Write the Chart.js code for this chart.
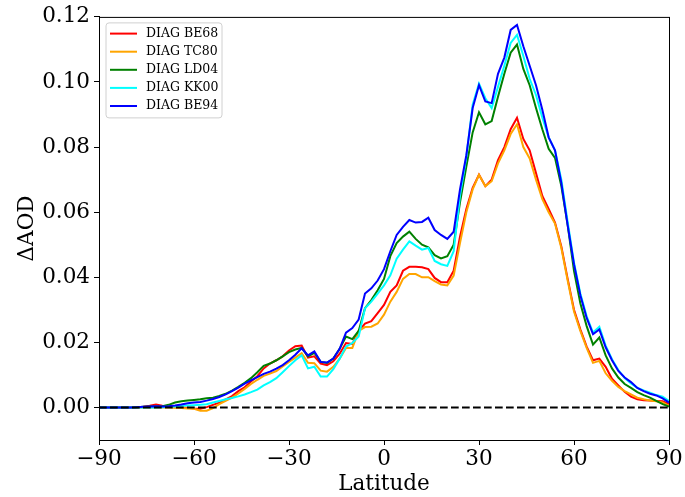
<!DOCTYPE html>
<html>
<head>
<meta charset="utf-8">
<script src="https://cdn.jsdelivr.net/npm/chart.js@4.4.1/dist/chart.umd.min.js"></script>
<style>
  html, body { margin: 0; padding: 0; background: #fff; }
  canvas { display: block; }
</style>
</head>
<body>
<canvas id="graficaAOD" width="685" height="497"></canvas>
<script>
// latitudes (deg), 2 degree steps
const latitudes = [-90,-88,-86,-84,-82,-80,-78,-76,-74,-72,-70,-68,-66,-64,-62,-60,-58,-56,-54,-52,
  -50,-48,-46,-44,-42,-40,-38,-36,-34,-32,-30,-28,-26,-24,-22,-20,-18,-16,-14,-12,
  -10,-8,-6,-4,-2,0,2,4,6,8,10,12,14,16,18,20,22,24,26,28,
  30,32,34,36,38,40,42,44,46,48,50,52,54,56,58,60,62,64,66,68,
  70,72,74,76,78,80,82,84,86,88,90];

const be68 = [0,0,0,0,0,0,0,0.0002,0.0005,0.0009,0.0005,0.0003,0.0001,0,-0.0001,-0.0003,-0.0004,0.0001,0.0008,0.0015,
  0.0025,0.0035,0.0050,0.0062,0.0080,0.0096,0.0120,0.0135,0.0145,0.0157,0.0175,0.0188,0.0190,0.0153,0.0157,0.0135,0.0130,0.0142,0.0165,0.0198,
  0.0195,0.0235,0.0258,0.0265,0.0290,0.0315,0.0355,0.0375,0.0420,0.0432,0.0432,0.0431,0.0425,0.0398,0.0385,0.0385,0.0420,0.0525,0.0610,0.0675,
  0.0715,0.0680,0.0700,0.0760,0.0800,0.0855,0.0890,0.0825,0.0790,0.0720,0.0650,0.0610,0.0568,0.0495,0.0395,0.0300,0.0240,0.0187,0.0145,0.0150,
  0.0125,0.0088,0.0068,0.0048,0.0033,0.0025,0.0022,0.0021,0.0020,0.0019,0.0010];

const tc80 = [0,0,0,0,0,0,0,0,0,0,0,0,-0.0001,-0.0002,-0.0003,-0.0004,-0.0010,-0.0010,-0.0002,0.0010,
  0.0020,0.0030,0.0043,0.0057,0.0072,0.0085,0.0097,0.0104,0.0112,0.0126,0.0140,0.0153,0.0167,0.0137,0.0136,0.0113,0.0110,0.0125,0.0150,0.0183,
  0.0183,0.0235,0.0247,0.0248,0.0258,0.0285,0.0325,0.0355,0.0395,0.0410,0.0410,0.0400,0.0400,0.0388,0.0378,0.0375,0.0405,0.0505,0.0600,0.0670,
  0.0715,0.0680,0.0695,0.0750,0.0790,0.0840,0.0870,0.0800,0.0765,0.0700,0.0640,0.0600,0.0565,0.0490,0.0390,0.0295,0.0235,0.0183,0.0137,0.0143,
  0.0105,0.0082,0.0063,0.0050,0.0040,0.0030,0.0025,0.0021,0.0019,0.0015,0.0005];

const ld04 = [0,0,0,0,0,0,0.0001,0.0002,0.0003,0.0003,0.0004,0.0008,0.0015,0.0019,0.0021,0.0023,0.0025,0.0028,0.0030,0.0035,
  0.0042,0.0052,0.0063,0.0076,0.0090,0.0108,0.0128,0.0135,0.0145,0.0157,0.0170,0.0178,0.0183,0.0157,0.0168,0.0140,0.0137,0.0150,0.0180,0.0218,
  0.0210,0.0235,0.0305,0.0330,0.0360,0.0395,0.0465,0.0505,0.0525,0.0540,0.0518,0.0500,0.0492,0.0468,0.0458,0.0465,0.0500,0.0630,0.0740,0.0845,
  0.0907,0.0870,0.0880,0.0955,0.1025,0.1090,0.1115,0.1040,0.0990,0.0920,0.0855,0.0795,0.0767,0.0680,0.0560,0.0420,0.0320,0.0250,0.0193,0.0215,
  0.0160,0.0120,0.0092,0.0072,0.0060,0.0047,0.0038,0.0030,0.0020,0.0010,0.0003];

const kk00 = [0,0,0,0,0,0,0,0,0,0,0.0001,0.0002,0.0003,0.0005,0.0006,0.0007,0.0008,0.0010,0.0015,0.0020,
  0.0025,0.0029,0.0034,0.0040,0.0047,0.0055,0.0068,0.0078,0.0090,0.0108,0.0127,0.0145,0.0160,0.0120,0.0125,0.0095,0.0095,0.0118,0.0150,0.0187,
  0.0198,0.0218,0.0305,0.0325,0.0350,0.0375,0.0406,0.0457,0.0485,0.0510,0.0497,0.0485,0.0490,0.0450,0.0440,0.0435,0.0480,0.0650,0.0770,0.0930,
  0.0995,0.0950,0.0920,0.0985,0.1050,0.1120,0.1145,0.1080,0.1010,0.0960,0.0890,0.0830,0.0790,0.0700,0.0570,0.0445,0.0350,0.0280,0.0230,0.0248,
  0.0190,0.0148,0.0115,0.0090,0.0074,0.0060,0.0052,0.0045,0.0038,0.0033,0.0020];

const be94 = [0,0,0,0,0,0,0.0001,0.0002,0.0003,0.0004,0.0003,0.0004,0.0006,0.0009,0.0013,0.0015,0.0017,0.0021,0.0026,0.0032,
  0.0040,0.0050,0.0061,0.0073,0.0083,0.0093,0.0103,0.0110,0.0119,0.0130,0.0145,0.0162,0.0182,0.0160,0.0172,0.0140,0.0138,0.0150,0.0180,0.0230,
  0.0244,0.0270,0.0350,0.0366,0.0390,0.0425,0.0480,0.0530,0.0555,0.0576,0.0568,0.0570,0.0583,0.0545,0.0530,0.0518,0.0540,0.0670,0.0775,0.0920,
  0.0990,0.0940,0.0935,0.1025,0.1075,0.1160,0.1175,0.1110,0.1050,0.0990,0.0915,0.0830,0.0790,0.0690,0.0560,0.0440,0.0345,0.0275,0.0225,0.0240,
  0.0185,0.0145,0.0112,0.0092,0.0078,0.0060,0.0050,0.0042,0.0037,0.0028,0.0015];

const seriesLabels = ['DIAG BE68', 'DIAG TC80', 'DIAG LD04', 'DIAG KK00', 'DIAG BE94'];
const seriesColors = ['#ff0000', '#ffa500', '#008000', '#00ffff', '#0000ff'];
const seriesValues = [be68, tc80, ld04, kk00, be94];

const xTicks = [-90, -60, -30, 0, 30, 60, 90];
const yTicks = [0, 0.02, 0.04, 0.06, 0.08, 0.10, 0.12];

const fuente = "'DejaVu Serif', serif";

const datasets = seriesValues.map((vals, i) => ({
  label: seriesLabels[i],
  data: latitudes.map((lat, j) => ({ x: lat, y: vals[j] })),
  borderColor: seriesColors[i],
  borderWidth: 2,
  pointRadius: 0,
  fill: false,
  tension: 0,
  order: 5 - i
}));

// zero reference line
datasets.push({
  label: 'cero',
  data: [{ x: -90, y: 0 }, { x: 90, y: 0 }],
  borderColor: '#000',
  borderWidth: 2,
  borderDash: [7.7, 3.3],
  pointRadius: 0,
  order: 0
});

// full box around plot area, like the matplotlib spines
const marcoPlugin = {
  id: 'marco',
  afterDraw(chart) {
    const { ctx, chartArea: a } = chart;
    ctx.save();
    ctx.strokeStyle = '#000';
    ctx.lineWidth = 1;
    ctx.strokeRect(a.left + 0.5, a.top + 0.5, a.right - a.left, a.bottom - a.top);
    ctx.restore();
  }
};

// legend box in the upper-left corner of the plot
const leyendaPlugin = {
  id: 'leyenda',
  afterDraw(chart) {
    const { ctx, chartArea: a } = chart;
    const x0 = a.left + 7, y0 = a.top + 6, w = 116, h = 95, r = 3;
    ctx.save();
    ctx.beginPath();
    ctx.moveTo(x0 + r, y0);
    ctx.arcTo(x0 + w, y0, x0 + w, y0 + h, r);
    ctx.arcTo(x0 + w, y0 + h, x0, y0 + h, r);
    ctx.arcTo(x0, y0 + h, x0, y0, r);
    ctx.arcTo(x0, y0, x0 + w, y0, r);
    ctx.closePath();
    ctx.fillStyle = 'rgba(255,255,255,0.8)';
    ctx.fill();
    ctx.strokeStyle = '#d0d0d0';
    ctx.lineWidth = 1;
    ctx.stroke();
    ctx.font = "12.5px " + fuente;
    ctx.textBaseline = 'middle';
    ctx.fillStyle = '#000';
    seriesLabels.forEach((lab, i) => {
      const yy = y0 + 10.7 + i * 18.1;
      ctx.strokeStyle = seriesColors[i];
      ctx.lineWidth = 2;
      ctx.beginPath();
      ctx.moveTo(x0 + 4, yy);
      ctx.lineTo(x0 + 31, yy);
      ctx.stroke();
      ctx.fillText(lab, x0 + 40, yy);
    });
    ctx.restore();
  }
};

const omab_ctx = document.getElementById('graficaAOD').getContext('2d');

new Chart(omab_ctx, {
  type: 'line',
  data: { datasets },
  options: {
    responsive: false,
    animation: false,
    layout: { padding: { top: 15, right: 16, left: 0, bottom: 0 } },
    plugins: {
      legend: { display: false },
      tooltip: { enabled: false }
    },
    scales: {
      x: {
        type: 'linear',
        min: -90,
        max: 90,
        afterBuildTicks: s => { s.ticks = xTicks.map(v => ({ value: v })); },
        afterFit: s => { s.height = 57; },
        ticks: {
          color: '#000',
          font: { family: fuente, size: 21.5 },
          padding: 2,
          maxRotation: 0,
          callback: v => String(v).replace('-', '\u2212')
        },
        grid: { drawOnChartArea: false, drawTicks: true, tickLength: 5, color: '#000' },
        border: { color: '#000' },
        title: {
          display: true,
          text: 'Latitude',
          color: '#000',
          font: { family: fuente, size: 21.5 },
          padding: { top: 0, bottom: 0 }
        }
      },
      y: {
        min: -0.01,
        max: 0.12,
        afterBuildTicks: s => { s.ticks = yTicks.map(v => ({ value: v })); },
        afterFit: s => { s.width = 99; },
        ticks: {
          color: '#000',
          font: { family: fuente, size: 21.5 },
          padding: 4,
          callback: v => v.toFixed(2)
        },
        grid: { drawOnChartArea: false, drawTicks: true, tickLength: 5, color: '#000' },
        border: { color: '#000' },
        title: {
          display: true,
          text: '\u0394AOD',
          color: '#000',
          font: { family: fuente, size: 21.5 },
          padding: { top: 15, bottom: 0 }
        }
      }
    }
  },
  plugins: [marcoPlugin, leyendaPlugin]
});
</script>
</body>
</html>
